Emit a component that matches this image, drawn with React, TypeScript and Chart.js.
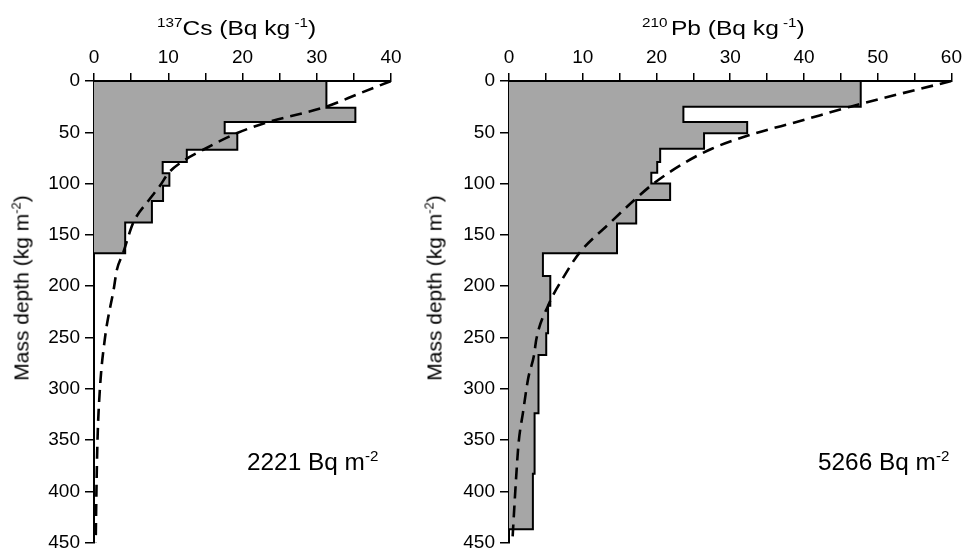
import React, { useEffect, useRef } from "react";
import { Chart, registerables } from "chart.js";

Chart.register(...registerables);

// ---- 137Cs profile (left) ----
const csDepthEdges = [0, 26, 40, 51, 67, 79, 90, 102, 117, 138, 168];
const csActivity = [31.3, 35.2, 17.6, 19.3, 12.5, 9.25, 10.15, 9.3, 7.8, 4.2];
const csModelDepth = [0, 12, 25, 40, 51, 67, 79, 90, 102, 117, 138, 168, 185, 201, 252, 303, 353, 403, 450];
const csModelActivity = [40, 35.8, 31.3, 23.5, 19.2, 14.7, 11.8, 10.0, 8.9, 7.3, 5.3, 3.9, 3.05, 2.7, 1.45, 0.77, 0.46, 0.32, 0.23];
const csXTicksMax = 40;

// ---- 210Pb profile (right) ----
const pbDepthEdges = [0, 25, 40, 51, 66, 79, 89.5, 100, 116, 139, 168, 190, 219, 246, 267, 324, 383, 437];
const pbActivity = [47.7, 23.65, 32.3, 26.45, 20.5, 20.1, 19.3, 21.85, 17.25, 14.65, 4.6, 5.6, 5.3, 5.05, 4.0, 3.47, 3.24];
const pbModelDepth = [0, 25, 40, 51, 66, 79, 100, 116, 139, 168, 190, 219, 252, 267, 290, 323, 353, 383, 437, 450];
const pbModelActivity = [60, 46.3, 39.0, 33.4, 27.5, 24.0, 19.6, 17.0, 13.6, 9.5, 7.5, 5.3, 3.7, 3.4, 2.6, 1.9, 1.3, 1.0, 0.55, 0.45];
const pbXTicksMax = 60;

const depthMax = 450;
const FONT = "'Liberation Sans', Arial, Helvetica, sans-serif";

function stepPolygon(edges: number[], vals: number[]) {
  const pts: { x: number; y: number }[] = [{ x: 0, y: edges[0] }];
  vals.forEach((v, i) => {
    pts.push({ x: v, y: edges[i] });
    pts.push({ x: v, y: edges[i + 1] });
  });
  pts.push({ x: 0, y: edges[edges.length - 1] });
  return pts;
}

function curve(depths: number[], vals: number[]) {
  return depths.map((d, i) => ({ x: vals[i], y: d }));
}

type ProfileProps = {
  left: number;
  width: number;
  yAxisWidth: number;
  padRight: number;
  xMax: number;
  edges: number[];
  vals: number[];
  mDepth: number[];
  mVals: number[];
};

function Profile(p: ProfileProps) {
  const ref = useRef<HTMLCanvasElement | null>(null);
  useEffect(() => {
    if (!ref.current) return;
    const chart = new Chart(ref.current, {
      type: "line",
      data: {
        datasets: [
          {
            data: curve(p.mDepth, p.mVals),
            borderColor: "#000",
            borderWidth: 2.6,
            borderDash: [12, 7],
            pointRadius: 0,
            tension: 0.4,
            cubicInterpolationMode: "monotone",
            fill: false,
          },
          {
            data: stepPolygon(p.edges, p.vals),
            borderColor: "#000",
            borderWidth: 2,
            backgroundColor: "#a6a6a6",
            pointRadius: 0,
            tension: 0,
            fill: "shape",
          },
        ],
      } as any,
      options: {
        animation: false,
        responsive: false,
        devicePixelRatio: 1,
        layout: { padding: { left: 0, top: 0, right: p.padRight, bottom: 11 } },
        plugins: { legend: { display: false }, tooltip: { enabled: false } },
        scales: {
          x: {
            type: "linear",
            position: "top",
            min: 0,
            max: p.xMax,
            afterFit: (s: any) => {
              s.height = 81;
            },
            ticks: {
              stepSize: 5,
              autoSkip: false,
              maxRotation: 0,
              padding: 4,
              color: "#000",
              font: { family: FONT, size: 19 },
              callback: (v: any) => (Number(v) % 10 === 0 ? String(v) : ""),
            },
            grid: { drawOnChartArea: false, drawTicks: true, tickLength: 8, color: "#000", lineWidth: 1.5 },
            border: { display: true, color: "#000", width: 2 },
          },
          y: {
            type: "linear",
            reverse: true,
            min: 0,
            max: depthMax,
            afterFit: (s: any) => {
              s.width = p.yAxisWidth;
            },
            ticks: {
              stepSize: 50,
              autoSkip: false,
              padding: 5,
              color: "#000",
              font: { family: FONT, size: 19 },
            },
            grid: { drawOnChartArea: false, drawTicks: true, tickLength: 9, color: "#000", lineWidth: 1.5 },
            border: { display: true, color: "#000", width: 2 },
          },
        },
      } as any,
    });
    return () => chart.destroy();
  }, []);
  return (
    <canvas
      ref={ref}
      width={p.width}
      height={559}
      style={{ position: "absolute", left: p.left, top: 0, width: p.width, height: 559 }}
    />
  );
}

const sup: React.CSSProperties = { fontSize: "0.62em", position: "relative", top: "-0.6em" };

const titleStyle = (left: number): React.CSSProperties => ({
  position: "absolute",
  left,
  top: 17,
  fontSize: 21,
  lineHeight: 1,
  whiteSpace: "nowrap",
  transform: "scaleX(1.17)",
  transformOrigin: "left center",
});

const noteStyle = (left: number): React.CSSProperties => ({
  position: "absolute",
  left,
  top: 451,
  fontSize: 23,
  lineHeight: 1,
  whiteSpace: "nowrap",
  transform: "scaleX(1.06)",
  transformOrigin: "left center",
});

export default function App() {
  return (
    <div
      style={{
        position: "absolute",
        left: 0,
        top: 0,
        width: 966,
        height: 559,
        background: "#fff",
        overflow: "hidden",
        fontFamily: FONT,
        color: "#000",
      }}
    >
      <Profile
        left={0}
        width={420}
        yAxisWidth={94}
        padRight={29}
        xMax={csXTicksMax}
        edges={csDepthEdges}
        vals={csActivity}
        mDepth={csModelDepth}
        mVals={csModelActivity}
      />
      <Profile
        left={420}
        width={546}
        yAxisWidth={89}
        padRight={13}
        xMax={pbXTicksMax}
        edges={pbDepthEdges}
        vals={pbActivity}
        mDepth={pbModelDepth}
        mVals={pbModelActivity}
      />
      <div style={titleStyle(157)}>
        <span style={sup}>137</span>Cs (Bq kg<span style={sup}> -1</span>)
      </div>
      <div style={titleStyle(642)}>
        <span style={sup}>210</span>
        <span style={{ marginLeft: 3 }}>Pb (Bq kg</span>
        <span style={sup}> -1</span>)
      </div>
      {[21, 434].map((cx, i) => (
        <div
          key={i}
          style={{
            position: "absolute",
            left: cx,
            top: 288,
            fontSize: 21,
            lineHeight: 1,
            whiteSpace: "nowrap",
            transform: "translate(-50%, -50%) rotate(-90deg)",
          }}
        >
          Mass depth (kg m<span style={sup}>-2</span>)
        </div>
      ))}
      <div style={noteStyle(247)}>
        2221 Bq m<span style={sup}>-2</span>
      </div>
      <div style={noteStyle(818)}>
        5266 Bq m<span style={sup}>-2</span>
      </div>
    </div>
  );
}
